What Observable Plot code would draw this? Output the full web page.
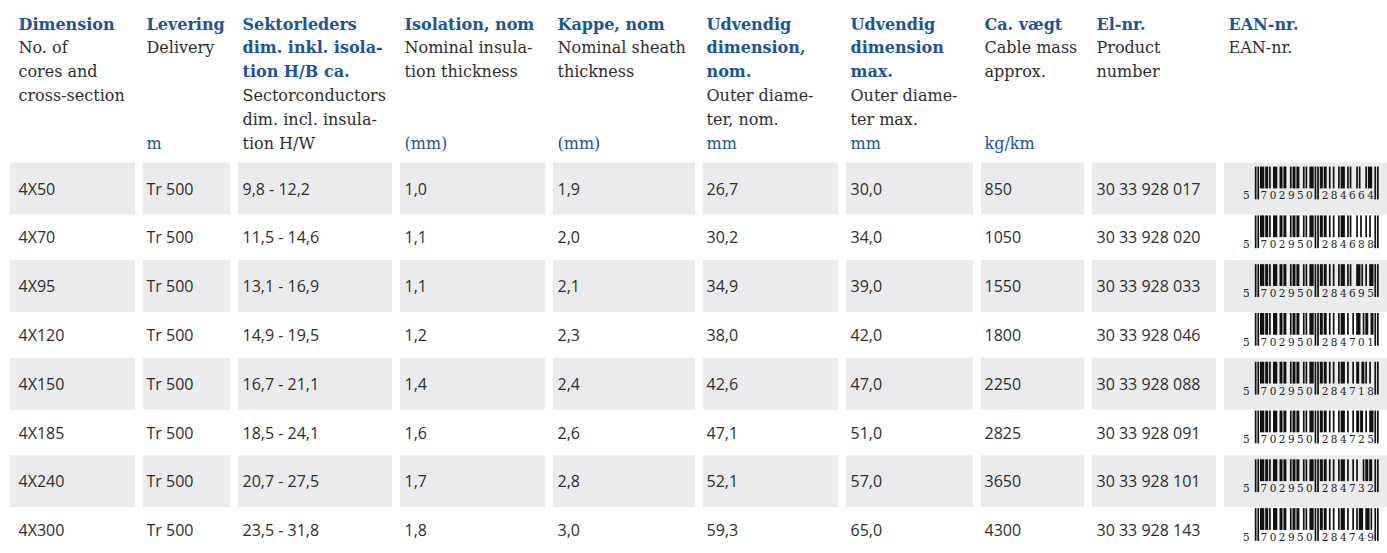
<!DOCTYPE html>
<html><head><meta charset="utf-8">
<script src="https://cdn.jsdelivr.net/npm/d3@7"></script>
<script src="https://cdn.jsdelivr.net/npm/@observablehq/plot@0.6"></script>
<style>html,body{margin:0;padding:0;background:#fff} svg{display:block}</style>
</head><body><div id="chart"></div>
<script>
// ---------- data ----------
const dims = ["4X50","4X70","4X95","4X120","4X150","4X185","4X240","4X300"];
const delivery = ["Tr 500","Tr 500","Tr 500","Tr 500","Tr 500","Tr 500","Tr 500","Tr 500"];
const sectorDim = ["9,8 - 12,2","11,5 - 14,6","13,1 - 16,9","14,9 - 19,5","16,7 - 21,1","18,5 - 24,1","20,7 - 27,5","23,5 - 31,8"];
const insulation = [1.0,1.1,1.1,1.2,1.4,1.6,1.7,1.8];
const sheath = [1.9,2.0,2.1,2.3,2.4,2.6,2.8,3.0];
const outerNom = [26.7,30.2,34.9,38.0,42.6,47.1,52.1,59.3];
const outerMax = [30.0,34.0,39.0,42.0,47.0,51.0,57.0,65.0];
const mass = [850,1050,1550,1800,2250,2825,3650,4300];
const elNr = ["30 33 928 017","30 33 928 020","30 33 928 033","30 33 928 046","30 33 928 088","30 33 928 091","30 33 928 101","30 33 928 143"];
const ean = ["5702950284664","5702950284688","5702950284695","5702950284701","5702950284718","5702950284725","5702950284732","5702950284749"];

const headBold = [
  ["Dimension"],
  ["Levering"],
  ["Sektorleders","dim. inkl. isola-","tion H/B ca."],
  ["Isolation, nom"],
  ["Kappe, nom"],
  ["Udvendig","dimension,","nom."],
  ["Udvendig","dimension","max."],
  ["Ca. vægt"],
  ["El-nr."],
  ["EAN-nr."]
];
const headSub = [
  ["No. of","cores and","cross-section"],
  ["Delivery"],
  ["Sectorconductors","dim. incl. insula-","tion H/W"],
  ["Nominal insula-","tion thickness"],
  ["Nominal sheath","thickness"],
  ["Outer diame-","ter, nom."],
  ["Outer diame-","ter max."],
  ["Cable mass","approx."],
  ["Product","number"],
  ["EAN-nr."]
];
const headUnit = ["","m","","(mm)","(mm)","mm","mm","kg/km","",""];

// ---------- layout (pixels) ----------
const W = 1387, H = 553;
const colStart = [10,143,238,400,553,703,846,981,1092,1224];
const colEnd   = [135,230,392,545,695,838,973,1084,1216,1387];
const colTextX = [18,146,242,404,557,706,850,984,1096,1228];
const lineStep = 23.8, firstBaseline = 29, unitLine = 5;
const barcodeX0 = 1255, moduleW = 1.3;

const BLUE = "#1b559c", INK = "#2e2e2e", GRAY = "#ebebed";
const SERIF = "DejaVu Serif", SANS = "Open Sans";

// ---------- derived tables ----------
const fmt1 = v => v.toFixed(1).replace(".", ",");
const cells = [];
dims.forEach((d, i) => {
  const vals = [d, delivery[i], sectorDim[i], fmt1(insulation[i]), fmt1(sheath[i]),
                fmt1(outerNom[i]), fmt1(outerMax[i]), String(mass[i]), elNr[i], ""];
  vals.forEach((v, c) => cells.push({dim: d, row: i, c, v}));
});

const headLines = [];
headBold.forEach((lines, c) => {
  lines.forEach((t, k) => headLines.push({c, k, t, bold: true}));
  headSub[c].forEach((t, k) => headLines.push({c, k: k + lines.length, t, bold: false}));
  if (headUnit[c]) headLines.push({c, k: unitLine, t: headUnit[c], bold: false, unit: true});
});

// EAN-13 encoding
const Lc = ["0001101","0011001","0010011","0111101","0100011","0110001","0101111","0111011","0110111","0001011"];
const Rc = Lc.map(s => s.split("").map(b => b === "1" ? "0" : "1").join(""));
const Gc = Rc.map(s => s.split("").reverse().join(""));
const parity = ["LLLLLL","LLGLGG","LLGGLG","LLGGGL","LGLLGG","LGGLLG","LGGGLL","LGLGLG","LGLGGL","LGGLGL"];
function eanModules(code) {
  const d = code.split("").map(Number);
  let s = "101";
  const p = parity[d[0]];
  for (let i = 1; i <= 6; i++) s += (p[i-1] === "L" ? Lc : Gc)[d[i]];
  s += "01010";
  for (let i = 7; i <= 12; i++) s += Rc[d[i]];
  s += "101";
  return s;
}
const isGuard = m => m < 3 || (m >= 45 && m < 50) || m >= 92;
const bars = [], digits = [];
dims.forEach((dim, i) => {
  const s = eanModules(ean[i]);
  let m = 0;
  while (m < s.length) {
    if (s[m] === "1") {
      let e = m;
      while (e < s.length && s[e] === "1" && isGuard(e) === isGuard(m)) e++;
      bars.push({dim, m0: m, m1: e, guard: isGuard(m)});
      m = e;
    } else m++;
  }
  ean[i].split("").forEach((ch, k) => {
    let pos;
    if (k === 0) pos = -7;
    else if (k <= 6) pos = 3 + 7 * (k - 1) + 3.5;
    else pos = 50 + 7 * (k - 7) + 3.5;
    digits.push({dim, t: ch, pos});
  });
});

// ---------- marks ----------
const marks = [];
// shaded rows
marks.push(Plot.barX(cells.filter(d => d.row % 2 === 0), {
  x1: d => colStart[d.c], x2: d => colEnd[d.c], y: "dim",
  fill: GRAY, insetTop: -3, insetBottom: 0
}));
// body text
marks.push(Plot.text(cells.filter(d => d.v !== ""), {
  x: d => colTextX[d.c], y: "dim", text: "v", dy: -1,
  textAnchor: "start", fontFamily: SANS, fontSize: 16, fill: INK
}));
// barcodes
marks.push(Plot.barX(bars.filter(b => !b.guard), {
  x1: b => barcodeX0 + b.m0 * moduleW, x2: b => barcodeX0 + b.m1 * moduleW, y: "dim",
  fill: "#111", insetTop: 1, insetBottom: 26, insetLeft: -0.2, insetRight: -0.2
}));
marks.push(Plot.barX(bars.filter(b => b.guard), {
  x1: b => barcodeX0 + b.m0 * moduleW, x2: b => barcodeX0 + b.m1 * moduleW, y: "dim",
  fill: "#111", insetTop: 1, insetBottom: 15, insetLeft: -0.2, insetRight: -0.2
}));
marks.push(Plot.text(digits, {
  x: d => barcodeX0 + d.pos * moduleW, y: "dim", text: "t",
  dy: 9, lineAnchor: "bottom", textAnchor: "middle",
  fontFamily: SERIF, fontSize: 10.5, fill: "#222"
}));
// header
for (let k = 0; k <= unitLine; k++) {
  for (const bold of [true, false]) {
    const data = headLines.filter(d => d.k === k && d.bold === bold);
    if (!data.length) continue;
    marks.push(Plot.text(data, {
      x: d => colTextX[d.c], text: "t", frameAnchor: "top",
      dy: firstBaseline + k * lineStep, lineAnchor: "bottom", textAnchor: "start",
      fontFamily: SERIF, fontSize: 16, fontWeight: bold ? "bold" : "normal",
      fill: d => (bold || d.unit) ? BLUE : INK
    }));
  }
}

const chart = Plot.plot({
  width: W, height: H, margin: 0,
  x: {type: "linear", domain: [0, W], range: [0, W], axis: null},
  y: {type: "band", domain: dims, range: [165.6, 555.9], padding: 0, round: false, axis: null},
  style: {background: "#fff"},
  marks
});
document.getElementById("chart").appendChild(chart);
</script></body></html>
